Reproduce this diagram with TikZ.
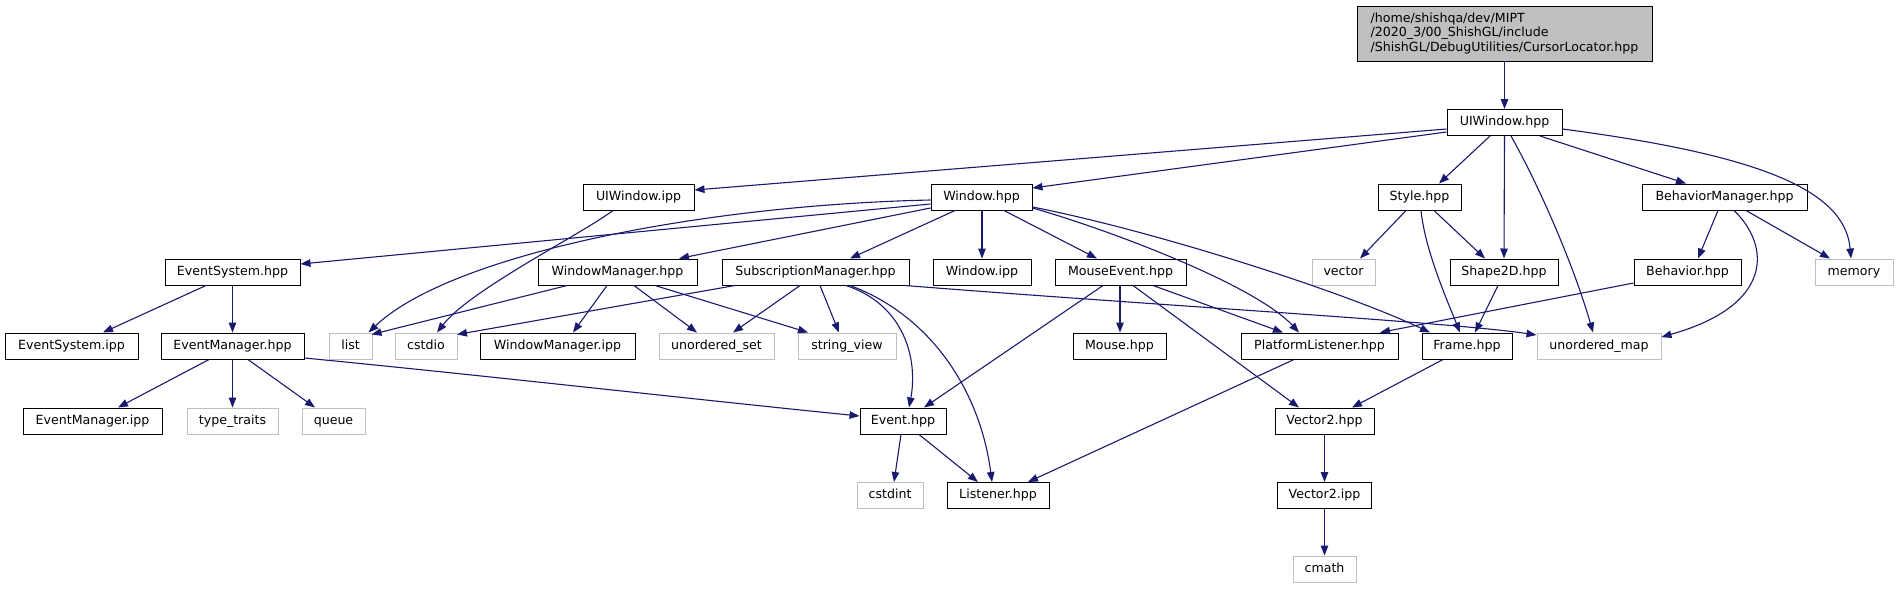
\documentclass[tikz,border=0pt]{standalone}
\usepackage{fontspec}
\setmainfont{DejaVu Sans}
\usetikzlibrary{arrows.meta}
\definecolor{edgeblue}{HTML}{191970}
\definecolor{lgray}{HTML}{BFBFBF}
\begin{document}
\begin{tikzpicture}[x=1pt,y=-1pt,
  base/.style={draw=black, line width=1pt, fill=white, inner sep=0pt, font=\fontsize{12.6}{14.5}\selectfont},
  box/.style={base, minimum height=26pt, text height=9.5pt, text depth=2.8pt},
  sysbox/.style={box, draw=lgray},
  rootbox/.style={base, fill=lgray, align=left, minimum height=55pt},
  e/.style={draw=edgeblue, line width=1.1pt, -{Triangle[length=10pt,width=7.5pt]}}
]
\useasboundingbox (0,0) rectangle (1898,589);

% row 1
\node[rootbox, minimum width=295pt] (top) at (1504.5,33.5) {/home/shishqa/dev/MIPT\\/2020\_3/00\_ShishGL/include\\/ShishGL/DebugUtilities/CursorLocator.hpp};
% row 2
\node[box, minimum width=115pt] (uiw) at (1504.5,122.5) {UIWindow.hpp};
% row 3
\node[box, minimum width=111pt] (uiwipp) at (638.5,197) {UIWindow.ipp};
\node[box, minimum width=101pt] (win) at (981.5,197) {Window.hpp};
\node[box, minimum width=83pt] (style) at (1419.5,197) {Style.hpp};
\node[box, minimum width=165pt] (bman) at (1724.5,197) {BehaviorManager.hpp};
% row 4
\node[box, minimum width=135pt] (esys) at (232.5,272) {EventSystem.hpp};
\node[box, minimum width=159pt] (wman) at (617.5,272) {WindowManager.hpp};
\node[box, minimum width=187pt] (sman) at (815.5,272) {SubscriptionManager.hpp};
\node[box, minimum width=98pt] (winipp) at (982,272) {Window.ipp};
\node[box, minimum width=131pt] (mev) at (1120.5,272) {MouseEvent.hpp};
\node[sysbox, minimum width=63pt] (vector) at (1343.5,272) {vector};
\node[box, minimum width=108pt] (shape) at (1504,272) {Shape2D.hpp};
\node[box, minimum width=107pt] (beh) at (1687.5,272) {Behavior.hpp};
\node[sysbox, minimum width=78pt] (memory) at (1854,272) {memory};
% row 5
\node[box, minimum width=133pt] (esysipp) at (71.5,346) {EventSystem.ipp};
\node[box, minimum width=143pt] (eman) at (232.5,346) {EventManager.hpp};
\node[sysbox, minimum width=43pt] (list) at (350.5,346) {list};
\node[sysbox, minimum width=62pt] (cstdio) at (426,346) {cstdio};
\node[box, minimum width=155pt] (wmanipp) at (557.5,346) {WindowManager.ipp};
\node[sysbox, minimum width=115pt] (uset) at (716.5,346) {unordered\_set};
\node[sysbox, minimum width=98pt] (sview) at (847,346) {string\_view};
\node[box, minimum width=93pt] (mouse) at (1119.5,346) {Mouse.hpp};
\node[box, minimum width=157pt] (plis) at (1319.5,346) {PlatformListener.hpp};
\node[box, minimum width=90pt] (frame) at (1467,346) {Frame.hpp};
\node[sysbox, minimum width=124pt] (umap) at (1599,346) {unordered\_map};
% row 6
\node[box, minimum width=139pt] (emanipp) at (92.5,421) {EventManager.ipp};
\node[sysbox, minimum width=91pt] (ttraits) at (232.5,421) {type\_traits};
\node[sysbox, minimum width=63pt] (queue) at (333.5,421) {queue};
\node[box, minimum width=86pt] (event) at (903,421) {Event.hpp};
\node[box, minimum width=99pt] (v2hpp) at (1324.5,421) {Vector2.hpp};
% row 7
\node[sysbox, minimum width=66pt] (cstdint) at (890,495.5) {cstdint};
\node[box, minimum width=102pt] (listener) at (998,495.5) {Listener.hpp};
\node[box, minimum width=94pt] (v2ipp) at (1324.5,495.5) {Vector2.ipp};
% row 8
\node[sysbox, minimum width=63pt] (cmath) at (1324.5,569) {cmath};

% edges from root / UIWindow.hpp
\draw[e] (top.south) -- (uiw.north);
\draw[e] ([yshift=-6.5pt]uiw.west) -- ([yshift=7pt]uiwipp.east);
\draw[e] ([yshift=-9.5pt]uiw.west) -- ([yshift=9pt]win.east);
\draw[e] ([xshift=-14.5pt]uiw.south) -- ([xshift=19.5pt]style.north);
\draw[e] (uiw.south) -- (shape.north);
\draw[e] ([xshift=6.5pt]uiw.south) .. controls (1544,195) and (1576,273) .. ([xshift=-6pt]umap.north);
\draw[e] ([xshift=35.5pt]uiw.south) -- ([xshift=-38.5pt]bman.north);
\draw[e] ([yshift=-6.5pt]uiw.east) .. controls (1760,155) and (1845,190) .. ([xshift=-3pt]memory.north);

% UIWindow.ipp
\draw[e] ([xshift=-25.5pt]uiwipp.south) .. controls (580,235) and (470,290) .. ([xshift=11pt]cstdio.north);

% Window.hpp
\draw[e] ([yshift=-7pt]win.west) -- ([yshift=8pt]esys.east);
\draw[e] ([yshift=-3pt]win.west) .. controls (700,205) and (450,255) .. ([xshift=18pt]list.north);
\draw[e] ([yshift=-11pt]win.west) -- ([xshift=61.5pt]wman.north);
\draw[e] ([xshift=-26.5pt]win.south) -- ([xshift=34.5pt]sman.north);
\draw[e] ([xshift=0.5pt]win.south) -- (winipp.north);
\draw[e] ([xshift=22.5pt]win.south) -- ([xshift=-23.5pt]mev.north);
\draw[e] ([yshift=-11pt]win.east) .. controls (1110,230) and (1255,285) .. ([xshift=-20.5pt]plis.north);
\draw[e] ([yshift=-10pt]win.east) .. controls (1150,230) and (1340,290) .. ([xshift=-37pt]frame.north);

% SubscriptionManager.hpp
\draw[e] ([xshift=-80.5pt]sman.south) -- ([xshift=31pt,yshift=-2pt]cstdio.north);
\draw[e] ([xshift=-15.5pt]sman.south) -- ([xshift=16.5pt]uset.north);
\draw[e] ([xshift=4.5pt]sman.south) -- ([xshift=-8pt]sview.north);
\draw[e] ([xshift=30.5pt]sman.south) .. controls (905,305) and (918,360) .. ([xshift=6pt]event.north);
\draw[e] ([xshift=34.5pt]sman.south) .. controls (930,315) and (980,390) .. ([xshift=-6pt]listener.north);
\draw[e] ([xshift=89.5pt]sman.south) .. controls (1150,305) and (1450,322) .. ([yshift=11pt]umap.west);

% WindowManager.hpp
\draw[e] ([xshift=-10.5pt]wman.south) -- ([xshift=15.5pt]wmanipp.north);
\draw[e] ([xshift=16.5pt]wman.south) -- ([xshift=-19.5pt]uset.north);
\draw[e] ([xshift=37.5pt]wman.south) -- ([xshift=-39pt]sview.north);
\draw[e] ([xshift=-50.5pt]wman.south) -- ([xshift=21pt,yshift=-2pt]list.north);

% MouseEvent.hpp
\draw[e] ([xshift=-17.5pt]mev.south) -- ([xshift=21pt]event.north);
\draw[e] ([xshift=-0.5pt]mev.south) -- ([xshift=0.5pt]mouse.north);
\draw[e] ([xshift=12.5pt]mev.south) -- ([xshift=-25.5pt]v2hpp.north);
\draw[e] ([xshift=32.5pt]mev.south) -- ([xshift=-36.5pt]plis.north);

% Style.hpp
\draw[e] ([xshift=-13.5pt]style.south) -- ([xshift=16.5pt]vector.north);
\draw[e] ([xshift=14.5pt]style.south) -- ([xshift=-19pt]shape.north);
\draw[e] ([xshift=1.5pt]style.south) .. controls (1425,250) and (1447,300) .. ([xshift=-7pt]frame.north);

% Shape2D.hpp
\draw[e] ([xshift=-6pt]shape.south) -- ([xshift=8pt]frame.north);

% BehaviorManager.hpp
\draw[e] ([xshift=-6.5pt]bman.south) -- ([xshift=10.5pt]beh.north);
\draw[e] ([xshift=21.5pt]bman.south) -- ([xshift=-24pt]memory.north);
\draw[e] ([xshift=9.5pt]bman.south) .. controls (1770,245) and (1775,305) .. ([yshift=9pt]umap.east);

% Behavior.hpp
\draw[e] ([yshift=-11pt]beh.west) -- ([xshift=60.5pt]plis.north);

% EventSystem.hpp
\draw[e] ([xshift=-26.5pt]esys.south) -- ([xshift=31.5pt]esysipp.north);
\draw[e] (esys.south) -- (eman.north);

% EventManager.hpp
\draw[e] ([xshift=-23.5pt]eman.south) -- ([xshift=25.5pt]emanipp.north);
\draw[e] (eman.south) -- (ttraits.north);
\draw[e] ([xshift=15.5pt]eman.south) -- ([xshift=-18.5pt]queue.north);
\draw[e] ([yshift=-12pt]eman.east) .. controls (480,375) and (700,400) .. ([yshift=5pt]event.west);

% Event.hpp
\draw[e] ([xshift=-2pt]event.south) -- ([xshift=4pt]cstdint.north);
\draw[e] ([xshift=16pt]event.south) -- ([xshift=-20pt]listener.north);

% PlatformListener.hpp
\draw[e] ([xshift=-25.5pt]plis.south) -- ([xshift=30pt]listener.north);

% Frame.hpp
\draw[e] ([xshift=-24pt]frame.south) -- ([xshift=27.5pt]v2hpp.north);

% Vector2
\draw[e] (v2hpp.south) -- (v2ipp.north);
\draw[e] (v2ipp.south) -- (cmath.north);
\end{tikzpicture}
\end{document}
